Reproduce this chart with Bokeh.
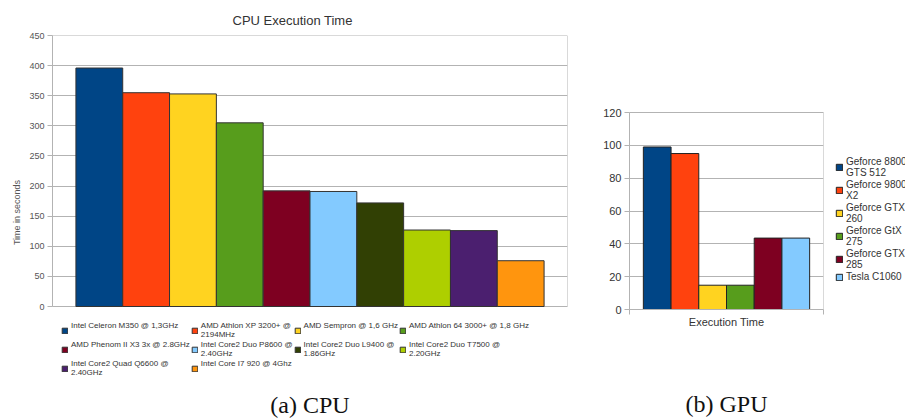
from bokeh.plotting import figure
from bokeh.models import Range1d, FixedTicker, LinearAxis, ColumnDataSource
from bokeh.layouts import row
from bokeh.embed import file_html
from bokeh.resources import INLINE

# ---------------- data ----------------
cpu_names = [
    "Intel Celeron M350 @ 1,3GHz",
    "AMD Athlon XP 3200+ @\n2194MHz",
    "AMD Sempron @ 1,6 GHz",
    "AMD Athlon 64 3000+ @ 1,8 GHz",
    "AMD Phenom II X3 3x @ 2.8GHz",
    "Intel Core2 Duo P8600 @\n2.40GHz",
    "Intel Core2 Duo L9400 @\n1.86GHz",
    "Intel Core2 Duo T7500 @\n2.20GHz",
    "Intel Core2 Quad Q6600 @\n2.40GHz",
    "Intel Core I7 920 @ 4Ghz",
]
cpu_times = [396, 355, 353, 305, 192, 191, 172, 127, 126, 76]

gpu_names = [
    "Geforce 8800\nGTS 512",
    "Geforce 9800\nX2",
    "Geforce GTX\n260",
    "Geforce GtX\n275",
    "Geforce GTX\n285",
    "Tesla C1060",
]
gpu_times = [99, 95, 14.8, 14.8, 43.5, 43.5]

cpu_ticks = [0, 50, 100, 150, 200, 250, 300, 350, 400, 450]
gpu_ticks = [0, 20, 40, 60, 80, 100, 120]

palette = ["#004586", "#ff420e", "#ffd320", "#579d1c", "#7e0021",
           "#83caff", "#314004", "#aecf00", "#4b1f6f", "#ff950e"]

GRID = "#b3b3b3"
SANS = "Liberation Sans"
SERIF = "Liberation Serif"
TOP = 35
CPU_PLOT_H = 271      # pixel height of the CPU value area (0 .. 450)
LEGEND_ROOM = 83      # frame space under the CPU value area, for its legend
GPU_PLOT_H = 197      # pixel height of the GPU value area (0 .. 120)
GPU_FRAME_H = 274


def style_common(p):
    p.xgrid.grid_line_color = None
    p.ygrid.grid_line_color = GRID
    p.background_fill_color = "white"
    p.border_fill_color = "white"
    p.outline_line_color = None
    ya = p.yaxis[0]
    ya.axis_line_color = GRID
    ya.major_tick_line_color = GRID
    ya.major_tick_out = 5
    ya.major_tick_in = 0
    ya.minor_tick_line_color = None
    ya.major_label_text_font = SANS
    ya.major_label_standoff = 3


def caption_axis(text, standoff):
    return LinearAxis(ticker=FixedTicker(ticks=[]), axis_line_color=None,
                      major_tick_out=0, major_tick_in=0,
                      major_label_text_font_size="1px",
                      major_label_standoff=0,
                      axis_label=text, axis_label_text_font=SERIF,
                      axis_label_text_font_size="24px",
                      axis_label_text_font_style="normal",
                      axis_label_text_color="#111111",
                      axis_label_standoff=standoff)


def style_legend(lg):
    lg.border_line_color = None
    lg.background_fill_alpha = 0
    lg.padding = 0
    lg.margin = 0
    lg.label_text_font = SANS
    lg.label_text_color = "#333333"


# ---------------- CPU chart ----------------
cpu_src = ColumnDataSource(dict(
    x=list(range(1, len(cpu_times) + 1)),
    top=cpu_times,
    # one-line names get a blank second line so they align with the
    # first line of the two-line names in the same legend row
    name=[n if "\n" in n else n + "\n " for n in cpu_names],
    color=palette[:len(cpu_times)],
))

cpu_per_px = cpu_ticks[-1] / CPU_PLOT_H
p1 = figure(frame_width=515, frame_height=CPU_PLOT_H + LEGEND_ROOM,
            x_range=Range1d(0, len(cpu_times) + 1),
            y_range=Range1d(-LEGEND_ROOM * cpu_per_px, cpu_ticks[-1]),
            x_axis_location=None,
            output_backend="svg", toolbar_location=None,
            min_border_left=52, min_border_right=31, min_border_top=TOP,
            min_border_bottom=0,
            title="CPU Execution Time")
p1.quad(left=[0], right=[len(cpu_times) + 1], bottom=[0], top=[cpu_ticks[-1]],
        fill_color=None, line_color=GRID, line_width=1)
p1.vbar(x="x", top="top", width=1.0, bottom=0, source=cpu_src,
        fill_color="color", line_color="#333333", line_width=1,
        legend_field="name")
style_common(p1)
p1.title.text_font = SANS
p1.title.text_font_size = "13px"
p1.title.text_font_style = "normal"
p1.title.text_color = "#333333"
p1.title.align = "left"
p1.title.offset = 180
p1.title.standoff = 16
p1.yaxis.ticker = FixedTicker(ticks=cpu_ticks)
p1.yaxis.bounds = (0, cpu_ticks[-1])
p1.yaxis.major_label_text_font_size = "9px"
p1.yaxis.major_label_text_color = "#555555"
p1.yaxis.axis_label = "Time in seconds"
p1.yaxis.axis_label_text_font = SANS
p1.yaxis.axis_label_text_font_size = "9px"
p1.yaxis.axis_label_text_font_style = "normal"
p1.yaxis.axis_label_text_color = "#555555"
p1.yaxis.axis_label_standoff = 4

lg1 = p1.legend[0]
style_legend(lg1)
lg1.orientation = "horizontal"
lg1.ncols = 4
lg1.location = (9, 12)
lg1.spacing = 1
lg1.glyph_width = 7
lg1.glyph_height = 7
lg1.label_standoff = 3
lg1.label_text_font_size = "8px"
lg1.label_text_line_height = 1.05
lg1.label_height = 8
p1.add_layout(caption_axis("(a) CPU", 2), "below")

# ---------------- GPU chart ----------------
gpu_src = ColumnDataSource(dict(
    x=list(range(1, len(gpu_times) + 1)),
    top=gpu_times,
    name=gpu_names,
    color=palette[:len(gpu_times)],
))

gpu_top = gpu_ticks[-1] * GPU_FRAME_H / GPU_PLOT_H
p2 = figure(frame_width=194, frame_height=GPU_FRAME_H,
            x_range=Range1d(0, len(gpu_times) + 1),
            y_range=Range1d(0, gpu_top),
            output_backend="svg", toolbar_location=None,
            min_border_left=31, min_border_right=82, min_border_top=TOP,
            min_border_bottom=0)
p2.quad(left=[0], right=[len(gpu_times) + 1], bottom=[0], top=[gpu_ticks[-1]],
        fill_color=None, line_color=GRID, line_width=1)
p2.vbar(x="x", top="top", width=1.0, bottom=0, source=gpu_src,
        fill_color="color", line_color="#222222", line_width=1,
        legend_field="name")
style_common(p2)
p2.yaxis.ticker = FixedTicker(ticks=gpu_ticks)
p2.yaxis.bounds = (0, gpu_ticks[-1])
p2.yaxis.major_label_text_font_size = "11px"
p2.yaxis.major_label_text_color = "#333333"
xa2 = p2.xaxis[0]
xa2.ticker = FixedTicker(ticks=[0, len(gpu_times) + 1])
xa2.axis_line_color = GRID
xa2.major_tick_line_color = GRID
xa2.major_tick_out = 5
xa2.major_tick_in = 0
xa2.major_label_text_font_size = "1px"
xa2.major_label_text_color = None
xa2.major_label_standoff = 0
xa2.axis_label = "Execution Time"
xa2.axis_label_text_font = SANS
xa2.axis_label_text_font_size = "11px"
xa2.axis_label_text_font_style = "normal"
xa2.axis_label_text_color = "#333333"
xa2.axis_label_standoff = 1
p2.add_layout(caption_axis("(b) GPU", 60), "below")

lg2 = p2.legend[0]
p2.center.remove(lg2)
p2.add_layout(lg2, "right")
style_legend(lg2)
lg2.location = (12, 27)
lg2.spacing = 1
lg2.glyph_width = 8
lg2.glyph_height = 8
lg2.label_standoff = 3
lg2.label_text_font_size = "10px"
lg2.label_text_line_height = 1.15
lg2.label_height = 9

layout = row(p1, p2, spacing=0)

with open("out.html", "w") as f:
    f.write(file_html(layout, INLINE))
